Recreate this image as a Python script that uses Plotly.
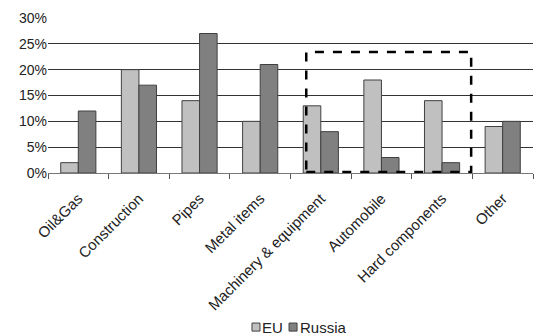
import plotly.graph_objects as go

categories = ["Oil&Gas", "Construction", "Pipes", "Metal items",
              "Machinery & equipment", "Automobile", "Hard components", "Other"]
eu = [2, 20, 14, 10, 13, 18, 14, 9]
russia = [12, 17, 27, 21, 8, 3, 2, 10]
y_ticks = [0, 5, 10, 15, 20, 25, 30]
y_labels = [f"{v}%" for v in y_ticks]

EU_COLOR = "#c0c0c0"
RU_COLOR = "#808080"
EDGE = "#404040"

fig = go.Figure()
fig.add_trace(go.Bar(name="EU", x=categories, y=eu,
                     marker=dict(color=EU_COLOR, line=dict(color=EDGE, width=1))))
fig.add_trace(go.Bar(name="Russia", x=categories, y=russia,
                     marker=dict(color=RU_COLOR, line=dict(color=EDGE, width=1))))

# dashed box around the engineering-related sectors
fig.add_shape(type="rect", xref="x", yref="y", x0=3.76, x1=6.48, y0=0.2, y1=23.4,
              line=dict(color="black", width=2.5, dash="dash"), fillcolor="rgba(0,0,0,0)",
              layer="above")

# compact legend below the chart: small swatches next to the series names
legend_items = [("EU", EU_COLOR, 0.4206, 0.437), ("Russia", RU_COLOR, 0.497, 0.515)]
for name, color, sx, tx in legend_items:
    fig.add_shape(type="rect", xref="paper", yref="paper",
                  x0=sx, x1=sx + 0.0165, y0=-1.02, y1=-0.968,
                  fillcolor=color, line=dict(color=EDGE, width=1))
    fig.add_annotation(xref="paper", yref="paper", x=tx, y=-0.994,
                       text=name, showarrow=False, xanchor="left", yanchor="middle",
                       font=dict(size=15, color="#222"))

fig.update_layout(
    width=534, height=336,
    margin=dict(l=48, r=1, t=18, b=163),
    paper_bgcolor="white", plot_bgcolor="white",
    font=dict(family="Liberation Sans, Arial, sans-serif", size=14, color="#222"),
    barmode="group", bargap=0.42, bargroupgap=0,
    showlegend=False,
)
fig.update_xaxes(tickangle=-45, tickson="boundaries", ticks="outside", ticklen=5,
                 tickcolor="#555", showline=True, linecolor="#777", linewidth=1,
                 showgrid=False, tickfont=dict(size=15), ticklabelstandoff=10)
fig.update_yaxes(range=[0, 30], tickvals=y_ticks, ticktext=y_labels,
                 showgrid=True, gridcolor="#333", gridwidth=1, zeroline=False,
                 showline=False, ticks="", tickfont=dict(size=14))

fig.write_html("out.html")
